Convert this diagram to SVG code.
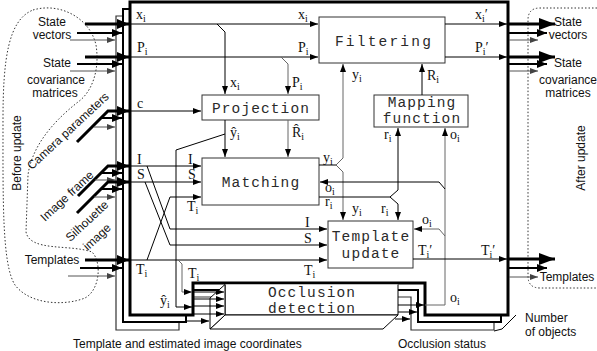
<svg xmlns="http://www.w3.org/2000/svg" width="597" height="351" viewBox="0 0 597 351">
<style>
.box{fill:#fff;stroke:#333;stroke-width:1}
.m{font-family:"Liberation Mono","Courier New",monospace;font-size:14.5px;fill:#2a2a2a;text-anchor:middle;letter-spacing:1.1px}
.v{font-family:"Liberation Serif","Times New Roman",serif;font-size:14px;fill:#111}
.s{font-size:10px}
.sf{font-family:"Liberation Sans",Arial,sans-serif;font-size:12px;fill:#111}
.c{text-anchor:middle}
.l{fill:none;stroke:#000;stroke-width:1}
.g{fill:none;stroke:#666;stroke-width:1}
.t3{fill:none;stroke:#000;stroke-width:3}
.t2{fill:none;stroke:#000;stroke-width:2}
.t1{fill:none;stroke:#555;stroke-width:1}
.dot{fill:none;stroke:#333;stroke-width:1;stroke-dasharray:1.5 2}
</style>
<defs>
<marker id="a1" markerUnits="userSpaceOnUse" markerWidth="8" markerHeight="6" refX="8" refY="3" orient="auto"><path d="M0,0 L8,3 L0,6 Z" fill="#000"/></marker>
<marker id="a1g" markerUnits="userSpaceOnUse" markerWidth="8" markerHeight="6" refX="8" refY="3" orient="auto"><path d="M0,0 L8,3 L0,6 Z" fill="#444"/></marker>
<marker id="a2" markerUnits="userSpaceOnUse" markerWidth="10" markerHeight="8" refX="10" refY="4" orient="auto"><path d="M0,0 L10,4 L0,8 Z" fill="#000"/></marker>
<marker id="a3" markerUnits="userSpaceOnUse" markerWidth="12" markerHeight="10" refX="12" refY="5" orient="auto"><path d="M0,0 L12,5 L0,10 Z" fill="#000"/></marker>
<marker id="a4" markerUnits="userSpaceOnUse" markerWidth="16" markerHeight="12" refX="16" refY="6" orient="auto"><path d="M0,0 L16,6 L0,12 Z" fill="#000"/></marker>
</defs>
<rect width="597" height="351" fill="#fff"/>

<g id="before-update-region">
<path class="dot" d="M33,10 C60,2 90,18 96,45 C100,70 92,92 78,102 C55,120 32,145 28,175 L26,232 C30,252 70,244 92,252 C102,262 100,290 85,298 C65,306 30,305 15,285 C2,265 3,200 3,120 C3,60 8,20 33,10 Z"/>
<text class="sf c" transform="translate(16,153) rotate(-90)" y="5" font-size="14">Before update</text>
</g>
<g id="after-update-region">
<path class="dot" d="M597,8 H540 Q528,8 528,20 V276 Q528,288 540,288 H597"/>
<text class="sf c" transform="translate(580,158) rotate(-90)" y="5" font-size="14">After update</text>
</g>

<g id="frame3"><path d="M116,16 H494 V330 H411 V297 H179 V330 H116 Z" fill="#fff" stroke="#333" stroke-width="1.2"/></g>
<g id="frame2"><path d="M123,9 H501 V322 H418 V290 H186 V322 H123 Z" fill="#fff" stroke="#000" stroke-width="2"/></g>
<g id="frame1"><path d="M130,2 H508 V315 H425 V283 H193 V315 H130 Z" fill="#fff" stroke="#000" stroke-width="3"/></g>

<g id="filtering"><rect class="box" x="319" y="17" width="126" height="46"/><text class="m" x="384" y="46" style="letter-spacing:2.2px">Filtering</text></g>
<g id="projection"><rect class="box" x="202" y="95" width="117" height="25"/><text class="m" x="261" y="113">Projection</text></g>
<g id="mapping-function"><rect class="box" x="374" y="95" width="94" height="32"/><text class="m" x="422" y="107">Mapping</text><text class="m" x="422" y="123">function</text></g>
<g id="matching"><rect class="box" x="202" y="158" width="117" height="47"/><text class="m" x="261" y="187">Matching</text></g>
<g id="template-update"><rect class="box" x="328" y="221" width="85" height="47"/><text class="m" x="371" y="241">Template</text><text class="m" x="371" y="258">update</text></g>
<g id="occlusion-detection">
<rect x="225" y="284.5" width="173" height="30.5" fill="#fff" stroke="none"/>
<path d="M225,284.5 V315 H398 V284.5" fill="none" stroke="#000" stroke-width="1"/>
<path d="M225,315 L210,329 H383 L398,315 Z" fill="#fff" stroke="#000" stroke-width="1"/>
<path d="M225,284.5 L210,298 V329 L225,315 Z" fill="#fff" stroke="#000" stroke-width="1"/>
<text class="m" x="312" y="297">Occlusion</text>
<text class="m" x="312" y="313">detection</text>
</g>

<g id="connectors">
<path class="t3" d="M85,24 H129" marker-end="url(#a3)"/>
<path class="t2" d="M77,33 H122" marker-end="url(#a2)"/>
<path class="t1" d="M70,40 H115" marker-end="url(#a1g)"/>
<path class="t3" d="M85,57 H129" marker-end="url(#a3)"/>
<path class="t2" d="M77,64 H122" marker-end="url(#a2)"/>
<path class="t1" d="M70,71 H115" marker-end="url(#a1g)"/>
<path class="t3" d="M77,142 L108,111 H129" marker-end="url(#a3)"/>
<path class="t2" d="M100,118 H122" marker-end="url(#a2)"/>
<path class="t1" d="M94,127 H115" marker-end="url(#a1g)"/>
<path class="t3" d="M78,196 L108,166 H129" marker-end="url(#a3)"/>
<path class="t2" d="M101,173 H122" marker-end="url(#a2)"/>
<path class="t1" d="M95,180 H115" marker-end="url(#a1g)"/>
<path class="t3" d="M77,213 L108,182 H129" marker-end="url(#a3)"/>
<path class="t2" d="M101,189 H122" marker-end="url(#a2)"/>
<path class="t1" d="M94,197 H115" marker-end="url(#a1g)"/>
<path class="t3" d="M85,260 H129" marker-end="url(#a3)"/>
<path class="t2" d="M80,268 H122" marker-end="url(#a2)"/>
<path class="t1" d="M68,276 H115" marker-end="url(#a1g)"/>
<path class="t3" d="M509,24 H555" marker-end="url(#a4)"/>
<path class="t2" d="M509,33 H547" marker-end="url(#a2)"/>
<path class="t1" d="M509,40 H538" marker-end="url(#a1g)"/>
<path class="t3" d="M509,57 H555" marker-end="url(#a4)"/>
<path class="t2" d="M509,64 H547" marker-end="url(#a2)"/>
<path class="t1" d="M509,71 H538" marker-end="url(#a1g)"/>
<path class="t3" d="M509,259 H555" marker-end="url(#a4)"/>
<path class="t2" d="M509,268 H547" marker-end="url(#a2)"/>
<path class="t1" d="M509,277 H538" marker-end="url(#a1g)"/>
<path class="l" d="M130,24 H318" marker-end="url(#a1)"/>
<path class="l" d="M217,24 L225,32 V94" marker-end="url(#a1)"/>
<path class="l" d="M130,57 H318" marker-end="url(#a1)"/>
<path class="g" d="M281,57 L288,64 V94" marker-end="url(#a1)"/>
<path class="l" d="M130,111 H201" marker-end="url(#a1)"/>
<path class="l" d="M225,120 V157" marker-end="url(#a1)"/>
<path class="g" d="M288,120 V157" marker-end="url(#a1)"/>
<path class="l" d="M225,134 L176,150 V307 H192" marker-end="url(#a1)"/>
<path class="l" d="M130,166 H201" marker-end="url(#a1)"/>
<path class="l" d="M130,182 H201" marker-end="url(#a1)"/>
<path class="l" d="M147,166 L170,229 H327" marker-end="url(#a1)"/>
<path class="l" d="M145,182 L170,245 H327" marker-end="url(#a1)"/>
<path class="l" d="M130,260 H327" marker-end="url(#a1)"/>
<path class="l" d="M147,260 L170,197 H201" marker-end="url(#a1)"/>
<path class="g" d="M178,260 L182,264 V292 H192" marker-end="url(#a1)"/>
<path class="l" d="M319,165 H336"/>
<path class="g" d="M336,165 L343,158 V64" marker-end="url(#a1)"/>
<path class="g" d="M336,165 L343,172 V220" marker-end="url(#a1)"/>
<path class="l" d="M319,197 H390"/>
<path class="l" d="M390,197 L398,190 V128" marker-end="url(#a1)"/>
<path class="l" d="M390,197 L398,204 V220" marker-end="url(#a1)"/>
<path class="g" d="M425,305 H445 V128" marker-end="url(#a1)"/>
<path class="l" d="M445,189 L439,182 H320" marker-end="url(#a1)"/>
<path class="g" d="M445,236 L439,229 H414" marker-end="url(#a1)"/>
<path class="l" d="M422,95 V64" marker-end="url(#a1)"/>
<path class="l" d="M445,24 H507" marker-end="url(#a1)"/>
<path class="l" d="M445,57 H507" marker-end="url(#a1)"/>
<path class="l" d="M413,259 H507" marker-end="url(#a1)"/>
<path class="l" d="M193,292 H224" marker-end="url(#a1)"/>
<path class="l" d="M193,299 H224" marker-end="url(#a1)"/>
<path class="l" d="M193,306 H224" marker-end="url(#a1)"/>
<path class="l" d="M193,314 H224" marker-end="url(#a1)"/>
<path class="l" d="M186,321 H209" marker-end="url(#a1)"/>
<path class="l" d="M398,305 H424" marker-end="url(#a1)"/>
<path class="l" d="M398,312 H417" marker-end="url(#a1)"/>
<path class="l" d="M395,319 H410" marker-end="url(#a1)"/>
<path class="l" d="M516,315 L502,329 L494,331"/>
</g>

<g id="labels">
<text class="sf c" x="52" y="26">State</text>
<text class="sf c" x="52" y="39">vectors</text>
<text class="sf c" x="57" y="67">State</text>
<text class="sf c" x="56" y="84">covariance</text>
<text class="sf c" x="55" y="97">matrices</text>
<text class="sf c" x="52" y="264">Templates</text>
<text class="sf c" transform="translate(68,131) rotate(-43)" y="4">Camera parameters</text>
<text class="sf c" transform="translate(67,196) rotate(-43)" y="4">Image frame</text>
<text class="sf c" transform="translate(87,221) rotate(-43)" y="4">Silhouette</text>
<text class="sf c" transform="translate(97,237) rotate(-43)" y="4">image</text>
<text class="sf c" x="568" y="26">State</text>
<text class="sf c" x="568" y="39">vectors</text>
<text class="sf c" x="568" y="67">State</text>
<text class="sf c" x="568" y="84">covariance</text>
<text class="sf c" x="568" y="97">matrices</text>
<text class="sf c" x="567" y="281">Templates</text>
<text class="sf" x="73" y="348">Template and estimated image coordinates</text>
<text class="sf" x="398" y="348">Occlusion status</text>
<text class="sf" x="525" y="322">Number</text>
<text class="sf" x="525" y="336">of objects</text>

<text class="v" x="136" y="19">x<tspan class="s" dy="3">i</tspan></text>
<text class="v" x="137" y="52">P<tspan class="s" dy="3">i</tspan></text>
<text class="v" x="137" y="108">c</text>
<text class="v" x="137" y="164">I</text>
<text class="v" x="137" y="179">S</text>
<text class="v" x="136" y="274">T<tspan class="s" dy="3">i</tspan></text>
<text class="v" x="188" y="164">I</text>
<text class="v" x="188" y="179">S</text>
<text class="v" x="187" y="211">T<tspan class="s" dy="3">i</tspan></text>
<text class="v" x="298" y="19">x<tspan class="s" dy="3">i</tspan></text>
<text class="v" x="298" y="52">P<tspan class="s" dy="3">i</tspan></text>
<text class="v" x="230" y="87">x<tspan class="s" dy="3">i</tspan></text>
<text class="v" x="292" y="87">P<tspan class="s" dy="3">i</tspan></text>
<text class="v" x="230" y="137">ŷ<tspan class="s" dy="3">i</tspan></text>
<text class="v" x="292" y="137">R̂<tspan class="s" dy="3">i</tspan></text>
<text class="v" x="352" y="79">y<tspan class="s" dy="3">i</tspan></text>
<text class="v" x="427" y="80">R<tspan class="s" dy="3">i</tspan></text>
<text class="v" x="384" y="139">r<tspan class="s" dy="3">i</tspan></text>
<text class="v" x="450" y="139">o<tspan class="s" dy="3">i</tspan></text>
<text class="v" x="323" y="162">y<tspan class="s" dy="3">i</tspan></text>
<text class="v" x="325" y="192">o<tspan class="s" dy="3">i</tspan></text>
<text class="v" x="325" y="206">r<tspan class="s" dy="3">i</tspan></text>
<text class="v" x="352" y="213">y<tspan class="s" dy="3">i</tspan></text>
<text class="v" x="381" y="213">r<tspan class="s" dy="3">i</tspan></text>
<text class="v" x="422" y="224">o<tspan class="s" dy="3">i</tspan></text>
<text class="v" x="305" y="227">I</text>
<text class="v" x="304" y="243">S</text>
<text class="v" x="304" y="275">T<tspan class="s" dy="3">i</tspan></text>
<text class="v" x="418" y="255">T<tspan class="s" dy="3">i</tspan><tspan dy="-3">′</tspan></text>
<text class="v" x="481" y="255">T<tspan class="s" dy="3">i</tspan><tspan dy="-3">′</tspan></text>
<text class="v" x="475" y="19">x<tspan class="s" dy="3">i</tspan><tspan dy="-3">′</tspan></text>
<text class="v" x="475" y="52">P<tspan class="s" dy="3">i</tspan><tspan dy="-3">′</tspan></text>
<text class="v" x="188" y="278">T<tspan class="s" dy="3">i</tspan></text>
<text class="v" x="160" y="305">ŷ<tspan class="s" dy="3">i</tspan></text>
<text class="v" x="450" y="302">o<tspan class="s" dy="3">i</tspan></text>
</g>
</svg>
